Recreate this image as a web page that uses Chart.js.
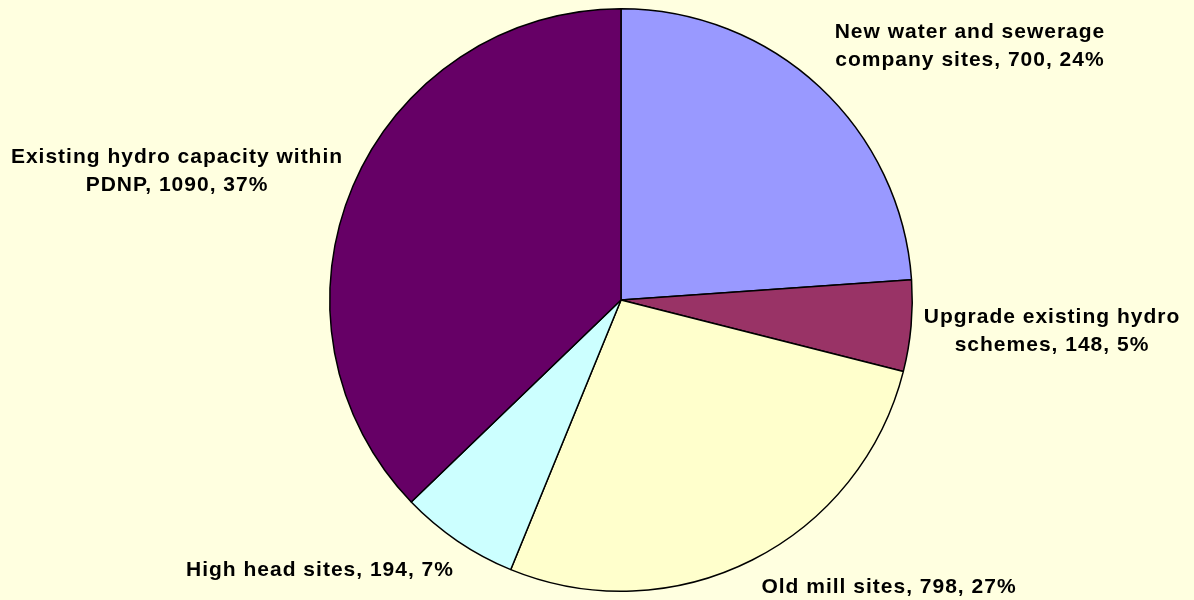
<!DOCTYPE html>
<html>
<head>
<meta charset="utf-8">
<script src="https://cdn.jsdelivr.net/npm/chart.js@4/dist/chart.umd.min.js"></script>
<style>
    html, body { margin: 0; padding: 0; background: #ffffe0; }
    #wrap { width: 1194px; height: 600px; }
</style>
</head>
<body>
<div id="wrap"><canvas id="chart"></canvas></div>
<script>
const categories = [
    'New water and sewerage company sites',
    'Upgrade existing hydro schemes',
    'Old mill sites',
    'High head sites',
    'Existing hydro capacity within PDNP'
];
const values = [700, 148, 798, 194, 1090];
const percents = ['24%', '5%', '27%', '7%', '37%'];
const colours = ['#9999ff', '#993366', '#ffffcc', '#ccffff', '#660066'];

// label text split into lines as in the original
const labelLines = [
    ['New water and sewerage', 'company sites, 700, 24%'],
    ['Upgrade existing hydro', 'schemes, 148, 5%'],
    ['Old mill sites, 798, 27%'],
    ['High head sites, 194, 7%'],
    ['Existing hydro capacity within', 'PDNP, 1090, 37%']
];
const labelPos = [[970, 32], [1052, 317], [889, 587], [320, 570], [177, 157]];

const pieLabels = {
    id: 'pieLabels',
    afterDraw(chart) {
        const ctx = chart.ctx;
        ctx.save();
        ctx.font = 'bold 21px "Liberation Sans", Arial, sans-serif';
        ctx.letterSpacing = '1px';
        ctx.fillStyle = '#000';
        ctx.textAlign = 'center';
        ctx.textBaseline = 'middle';
        labelLines.forEach((lines, i) => {
            const [x, y] = labelPos[i];
            lines.forEach((t, j) => ctx.fillText(t, x, y + j * 28));
        });
        ctx.restore();
    }
};

new Chart(document.getElementById('chart'), {
    type: 'pie',
    data: {
        labels: categories,
        datasets: [{
            data: values,
            backgroundColor: colours,
            borderColor: '#000',
            borderWidth: 1.5
        }]
    },
    options: {
        responsive: true,
        maintainAspectRatio: false,
        animation: false,
        layout: { padding: { top: 8, bottom: 8, left: 300, right: 252 } },
        plugins: {
            legend: { display: false },
            tooltip: { enabled: false }
        }
    },
    plugins: [pieLabels]
});
</script>
</body>
</html>
